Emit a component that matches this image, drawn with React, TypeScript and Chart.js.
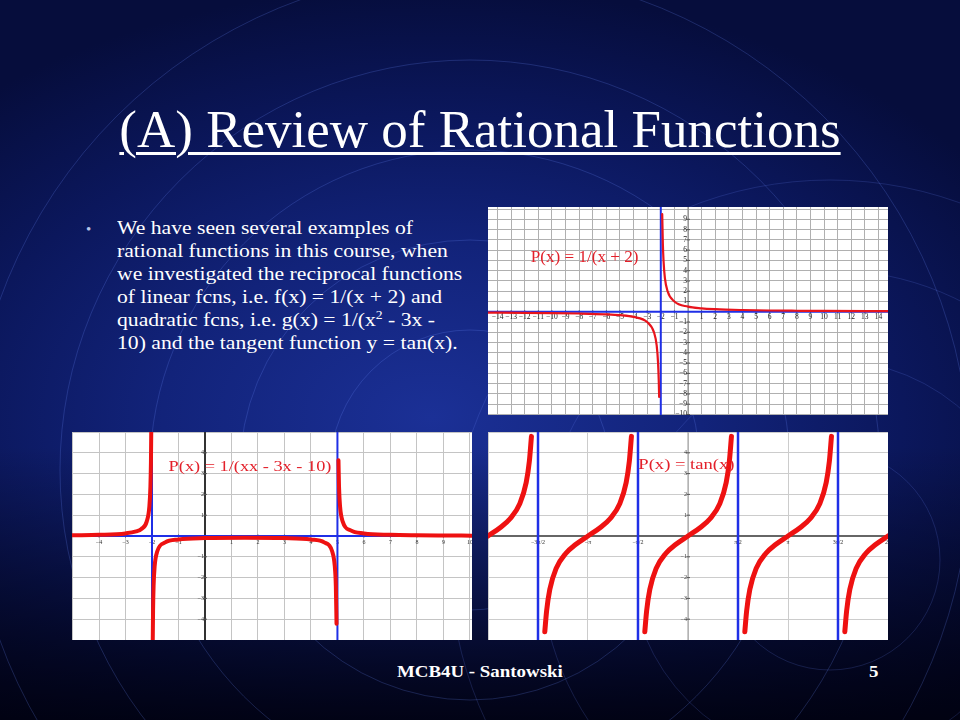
import React, { useEffect, useRef } from "react";
import { Chart, registerables } from "chart.js";

Chart.register(...registerables);

// ---------- Graph A: P(x) = 1/(x + 2) ----------
const recipLeftX = [-14.7, -12, -10, -8, -6, -5, -4, -3, -2.5, -2.3, -2.2, -2.15, -2.12];
const recipLeftY = [-0.08, -0.1, -0.125, -0.17, -0.25, -0.33, -0.5, -1, -2, -3.3, -5, -6.7, -8.3];
const recipRightX = [-1.895, -1.85, -1.8, -1.7, -1.5, -1, 0, 1, 2, 4, 6, 8, 10, 14.7];
const recipRightY = [9.5, 6.7, 5, 3.3, 2, 1, 0.5, 0.33, 0.25, 0.17, 0.125, 0.1, 0.08, 0.06];
const recipVertAsym = [-2];
const recipHorizAsym = [0];
const recipGridX = [-14, -13, -12, -11, -10, -9, -8, -7, -6, -5, -4, -3, -2, -1, 0, 1, 2, 3, 4, 5, 6, 7, 8, 9, 10, 11, 12, 13, 14];
const recipGridY = [-10, -9, -8, -7, -6, -5, -4, -3, -2, -1, 0, 1, 2, 3, 4, 5, 6, 7, 8, 9, 10];
const recipXTickValues = [-14, -13, -12, -11, -10, -9, -8, -7, -6, -5, -4, -3, -2, -1, 1, 2, 3, 4, 5, 6, 7, 8, 9, 10, 11, 12, 13, 14];
const recipXTickLabels = ["−14", "−13", "−12", "−11", "−10", "−9", "−8", "−7", "−6", "−5", "−4", "−3", "−2", "−1", "1", "2", "3", "4", "5", "6", "7", "8", "9", "10", "11", "12", "13", "14"];
const recipYTickValues = [9, 8, 7, 6, 5, 4, 3, 2, 1, -1, -2, -3, -4, -5, -6, -7, -8, -9, -10];
const recipYTickLabels = ["9", "8", "7", "6", "5", "4", "3", "2", "1", "−1", "−2", "−3", "−4", "−5", "−6", "−7", "−8", "−9", "−10"];

// ---------- Graph B: P(x) = 1/(x² - 3x - 10) ----------
const quadLeftX = [-5, -4, -3, -2.6, -2.4, -2.2, -2.1, -2.06, -2.04, -2.028];
const quadLeftY = [0.033, 0.056, 0.125, 0.22, 0.34, 0.69, 1.41, 2.36, 3.55, 5.08];
const quadMidX = [-1.972, -1.96, -1.94, -1.9, -1.8, -1.5, -1, 0, 1.5, 3, 4, 4.5, 4.8, 4.9, 4.94, 4.966];
const quadMidY = [-5.12, -3.59, -2.4, -1.45, -0.735, -0.308, -0.167, -0.1, -0.082, -0.1, -0.167, -0.308, -0.735, -1.45, -2.4, -4.22];
const quadRightX = [5.039, 5.06, 5.1, 5.2, 5.5, 6, 7, 8, 9, 10.1];
const quadRightY = [3.64, 2.36, 1.41, 0.69, 0.27, 0.125, 0.056, 0.033, 0.023, 0.016];
const quadVertAsym = [-2, 5];
const quadHorizAsym = [0];
const quadGridX = [-5, -4, -3, -2, -1, 0, 1, 2, 3, 4, 5, 6, 7, 8, 9, 10];
const quadGridY = [-5, -4, -3, -2, -1, 0, 1, 2, 3, 4, 5];
const quadXTickValues = [-4, -3, -2, -1, 1, 2, 3, 4, 5, 6, 7, 8, 9, 10];
const quadXTickLabels = ["−4", "−3", "−2", "−1", "1", "2", "3", "4", "5", "6", "7", "8", "9", "10"];
const quadYTickValues = [4, 3, 2, 1, -1, -2, -3, -4];
const quadYTickLabels = ["4", "3", "2", "1", "−1", "−2", "−3", "−4"];

// ---------- Graph C: P(x) = tan(x) ----------
const tanBranch1X = [-6.283, -5.883, -5.583, -5.283, -5.083, -4.983, -4.918];
const tanBranch1Y = [0, 0.423, 0.842, 1.557, 2.572, 3.602, 4.79];
const tanBranch2X = [-4.499, -4.442, -4.342, -4.142, -3.842, -3.542, -3.142, -2.742, -2.442, -2.142, -1.942, -1.842, -1.777];
const tanBranch2Y = [-4.6, -3.602, -2.572, -1.557, -0.842, -0.423, 0, 0.423, 0.842, 1.557, 2.572, 3.602, 4.79];
const tanBranch3X = [-1.357, -1.3, -1.2, -1.0, -0.7, -0.4, 0, 0.4, 0.7, 1.0, 1.2, 1.3, 1.365];
const tanBranch3Y = [-4.6, -3.602, -2.572, -1.557, -0.842, -0.423, 0, 0.423, 0.842, 1.557, 2.572, 3.602, 4.79];
const tanBranch4X = [1.785, 1.842, 1.942, 2.142, 2.442, 2.742, 3.142, 3.542, 3.842, 4.142, 4.342, 4.442, 4.507];
const tanBranch4Y = [-4.6, -3.602, -2.572, -1.557, -0.842, -0.423, 0, 0.423, 0.842, 1.557, 2.572, 3.602, 4.79];
const tanBranch5X = [4.926, 4.983, 5.083, 5.283, 5.583, 5.883, 6.283];
const tanBranch5Y = [-4.6, -3.602, -2.572, -1.557, -0.842, -0.423, 0];
const tanVertAsym = [-4.712, -1.571, 1.571, 4.712];
const tanGridX = [-6.283, -4.712, -3.142, -1.571, 0, 1.571, 3.142, 4.712, 6.283];
const tanGridY = [-5, -4, -3, -2, -1, 0, 1, 2, 3, 4, 5];
const tanXTickValues = [-4.712, -3.142, -1.571, 1.571, 3.142, 4.712, 6.283];
const tanXTickLabels = ["−3π/2", "−π", "−π/2", "π/2", "π", "3π/2", "2π"];
const tanYTickValues = [4, 3, 2, 1, -1, -2, -3, -4];
const tanYTickLabels = ["4", "3", "2", "1", "−1", "−2", "−3", "−4"];

interface Curve { xs: number[]; ys: number[] }
interface AxisStyle { color: string; width: number }
interface Spec {
  xMin: number; xMax: number; yMin: number; yMax: number;
  gridX: number[]; gridY: number[]; gridColor: string;
  xTickValues: number[]; xTickLabels: string[];
  yTickValues: number[]; yTickLabels: string[];
  labelFont: string; labelColor: string; labelGap: number;
  curves: Curve[]; curveWidth: number; curveColor: string;
  vAsym: number[]; hAsym: number[]; asymWidth: number; asymColor: string;
  xAxis: AxisStyle | null; yAxis: AxisStyle | null;
  title: { text: string; x: number; y: number; size: number; sx: number };
}

const SERIF = '"Liberation Serif", "Times New Roman", serif';

const specA: Spec = {
  xMin: -14.7, xMax: 14.7, yMin: -10.05, yMax: 10.2,
  gridX: recipGridX, gridY: recipGridY, gridColor: "#b0b0b0",
  xTickValues: recipXTickValues, xTickLabels: recipXTickLabels,
  yTickValues: recipYTickValues, yTickLabels: recipYTickLabels,
  labelFont: `7.5px ${SERIF}`, labelColor: "#222", labelGap: 2,
  curves: [{ xs: recipLeftX, ys: recipLeftY }, { xs: recipRightX, ys: recipRightY }],
  curveWidth: 2.2, curveColor: "#e8141c",
  vAsym: recipVertAsym, hAsym: recipHorizAsym, asymWidth: 2, asymColor: "#1f2fe6",
  xAxis: null, yAxis: { color: "#808080", width: 1 },
  title: { text: "P(x) = 1/(x + 2)", x: -7.6, y: 5.3, size: 16, sx: 1.07 },
};

const specB: Spec = {
  xMin: -5.02, xMax: 10.08, yMin: -5, yMax: 5,
  gridX: quadGridX, gridY: quadGridY, gridColor: "#c4c4c4",
  xTickValues: quadXTickValues, xTickLabels: quadXTickLabels,
  yTickValues: quadYTickValues, yTickLabels: quadYTickLabels,
  labelFont: `6px ${SERIF}`, labelColor: "#333", labelGap: 3,
  curves: [{ xs: quadLeftX, ys: quadLeftY }, { xs: quadMidX, ys: quadMidY }, { xs: quadRightX, ys: quadRightY }],
  curveWidth: 4, curveColor: "#ee1111",
  vAsym: quadVertAsym, hAsym: quadHorizAsym, asymWidth: 2, asymColor: "#1f2fe6",
  xAxis: null, yAxis: { color: "#333", width: 2 },
  title: { text: "P(x) = 1/(xx - 3x - 10)", x: 1.7, y: 3.3, size: 15, sx: 1.22 },
};

const specC: Spec = {
  xMin: -6.283, xMax: 6.283, yMin: -5, yMax: 5,
  gridX: tanGridX, gridY: tanGridY, gridColor: "#cccccc",
  xTickValues: tanXTickValues, xTickLabels: tanXTickLabels,
  yTickValues: tanYTickValues, yTickLabels: tanYTickLabels,
  labelFont: `6px ${SERIF}`, labelColor: "#333", labelGap: 3,
  curves: [
    { xs: tanBranch1X, ys: tanBranch1Y }, { xs: tanBranch2X, ys: tanBranch2Y },
    { xs: tanBranch3X, ys: tanBranch3Y }, { xs: tanBranch4X, ys: tanBranch4Y },
    { xs: tanBranch5X, ys: tanBranch5Y },
  ],
  curveWidth: 5, curveColor: "#ee1111",
  vAsym: tanVertAsym, hAsym: [], asymWidth: 2.5, asymColor: "#1f2fe6",
  xAxis: { color: "#666", width: 2 }, yAxis: { color: "#999", width: 1 },
  title: { text: "P(x) = tan(x)", x: -0.05, y: 3.4, size: 15, sx: 1.24 },
};

function buildConfig(spec: Spec): any {
  const datasets: any[] = [];
  spec.curves.forEach((c) => {
    datasets.push({
      data: c.xs.map((x, i) => ({ x, y: c.ys[i] })),
      borderColor: spec.curveColor,
      borderWidth: spec.curveWidth,
      borderCapStyle: "round",
      borderJoinStyle: "round",
      pointRadius: 0,
      fill: false,
      cubicInterpolationMode: "monotone",
    });
  });
  spec.vAsym.forEach((v) => {
    datasets.push({
      data: [{ x: v, y: spec.yMin - 1 }, { x: v, y: spec.yMax + 1 }],
      borderColor: spec.asymColor, borderWidth: spec.asymWidth,
      pointRadius: 0, fill: false, tension: 0,
    });
  });
  spec.hAsym.forEach((h) => {
    datasets.push({
      data: [{ x: spec.xMin - 1, y: h }, { x: spec.xMax + 1, y: h }],
      borderColor: spec.asymColor, borderWidth: spec.asymWidth,
      pointRadius: 0, fill: false, tension: 0,
    });
  });

  const decor = {
    id: "decor",
    beforeDatasetsDraw(chart: any) {
      const { ctx, chartArea } = chart;
      const xs = chart.scales.x, ys = chart.scales.y;
      const x0 = xs.getPixelForValue(0);
      const y0 = ys.getPixelForValue(0);
      ctx.save();
      if (spec.yAxis) {
        ctx.strokeStyle = spec.yAxis.color; ctx.lineWidth = spec.yAxis.width;
        ctx.beginPath(); ctx.moveTo(x0, chartArea.top); ctx.lineTo(x0, chartArea.bottom); ctx.stroke();
      }
      if (spec.xAxis) {
        ctx.strokeStyle = spec.xAxis.color; ctx.lineWidth = spec.xAxis.width;
        ctx.beginPath(); ctx.moveTo(chartArea.left, y0); ctx.lineTo(chartArea.right, y0); ctx.stroke();
      }
      ctx.font = spec.labelFont;
      ctx.fillStyle = spec.labelColor;
      ctx.strokeStyle = "#555"; ctx.lineWidth = 1;
      ctx.textAlign = "center"; ctx.textBaseline = "top";
      spec.xTickValues.forEach((v, i) => {
        const px = xs.getPixelForValue(v);
        ctx.beginPath(); ctx.moveTo(px, y0 - 1.5); ctx.lineTo(px, y0 + 1.5); ctx.stroke();
        ctx.fillText(spec.xTickLabels[i], px, y0 + spec.labelGap);
      });
      ctx.textAlign = "right"; ctx.textBaseline = "middle";
      spec.yTickValues.forEach((v, i) => {
        const py = ys.getPixelForValue(v);
        ctx.beginPath(); ctx.moveTo(x0 - 1.5, py); ctx.lineTo(x0 + 2, py); ctx.stroke();
        ctx.fillText(spec.yTickLabels[i], x0 - 1, py);
      });
      ctx.restore();
    },
    afterDatasetsDraw(chart: any) {
      const { ctx } = chart;
      const t = spec.title;
      const px = chart.scales.x.getPixelForValue(t.x);
      const py = chart.scales.y.getPixelForValue(t.y);
      ctx.save();
      ctx.translate(px, py);
      ctx.scale(t.sx, 1);
      ctx.font = `${t.size}px ${SERIF}`;
      ctx.fillStyle = "#e3202a";
      ctx.textAlign = "center"; ctx.textBaseline = "middle";
      ctx.fillText(t.text, 0, 0);
      ctx.restore();
    },
  };

  const scaleBase = (min: number, max: number, values: number[]) => ({
    type: "linear",
    min, max,
    afterBuildTicks: (s: any) => { s.ticks = values.map((v) => ({ value: v })); },
    grid: { color: spec.gridColor, lineWidth: 1, drawTicks: false },
    border: { display: false },
    ticks: { display: false },
  });

  return {
    type: "line",
    data: { datasets },
    options: {
      animation: false,
      responsive: false,
      maintainAspectRatio: false,
      layout: { padding: 0 },
      plugins: { legend: { display: false }, tooltip: { enabled: false }, title: { display: false } },
      scales: {
        x: scaleBase(spec.xMin, spec.xMax, spec.gridX),
        y: scaleBase(spec.yMin, spec.yMax, spec.gridY),
      },
    },
    plugins: [decor],
  };
}

function Graph({ spec, left, top }: { spec: Spec; left: number; top: number }) {
  const ref = useRef<HTMLCanvasElement>(null);
  useEffect(() => {
    const chart = new Chart(ref.current as HTMLCanvasElement, buildConfig(spec));
    return () => chart.destroy();
  }, [spec]);
  return (
    <canvas
      ref={ref}
      width={400}
      height={208}
      style={{ position: "absolute", left, top, width: 400, height: 208, background: "#ffffff" }}
    />
  );
}

const bulletLines = [
  "We have seen several examples of",
  "rational functions in this course, when",
  "we investigated the reciprocal functions",
  "of linear fcns, i.e. f(x) = 1/(x + 2) and",
];

export default function App() {
  return (
    <div
      style={{
        position: "absolute", left: 0, top: 0, width: 960, height: 720, overflow: "hidden",
        fontFamily: SERIF, color: "#ffffff",
        background:
          "linear-gradient(to bottom, rgba(0,0,0,0) 0%, rgba(0,0,0,0) 62%, rgba(0,0,12,0.88) 100%), radial-gradient(ellipse 70% 60% at 45% 58%, #1b3096 0%, #12237a 40%, #0b175c 70%, #060d3c 100%)",
      }}
    >
      <svg width={960} height={720} style={{ position: "absolute", left: 0, top: 0 }}>
        {[140, 230, 320, 410, 500].map((r) => (
          <circle key={"a" + r} cx={470} cy={470} r={r} fill="none" stroke="rgba(110,140,255,0.22)" strokeWidth={1} />
        ))}
        {[110, 200, 290, 380].map((r) => (
          <circle key={"b" + r} cx={830} cy={560} r={r} fill="none" stroke="rgba(110,140,255,0.18)" strokeWidth={1} />
        ))}
      </svg>

      <div
        style={{
          position: "absolute", left: 0, top: 103, width: 960, textAlign: "center",
          fontSize: 53, lineHeight: "53px", whiteSpace: "nowrap",
        }}
      >
        <span style={{ textDecoration: "underline", textDecorationThickness: 3, textUnderlineOffset: 5 }}>
          (A) Review of Rational Functions
        </span>
      </div>

      <div style={{ position: "absolute", left: 86, top: 218, fontSize: 15, lineHeight: "23px", color: "#b8c4e8" }}>•</div>
      <div
        style={{
          position: "absolute", left: 117, top: 216, fontSize: 19, lineHeight: "23px",
          whiteSpace: "nowrap", transform: "scaleX(1.14)", transformOrigin: "left top",
        }}
      >
        {bulletLines.map((l) => (
          <div key={l}>{l}</div>
        ))}
        <div>
          quadratic fcns, i.e. g(x) = 1/(x<sup style={{ fontSize: 12, lineHeight: 0 }}>2</sup> - 3x -
        </div>
        <div>10) and the tangent function y = tan(x).</div>
      </div>

      <Graph spec={specA} left={488} top={207} />
      <Graph spec={specB} left={72} top={432} />
      <Graph spec={specC} left={488} top={432} />

      <div
        style={{
          position: "absolute", left: 397, top: 662, fontSize: 16, lineHeight: "20px", fontWeight: "bold",
          whiteSpace: "nowrap", transform: "scaleX(1.18)", transformOrigin: "left top",
        }}
      >
        MCB4U - Santowski
      </div>
      <div
        style={{
          position: "absolute", left: 869, top: 662, fontSize: 16, lineHeight: "20px", fontWeight: "bold",
          transform: "scaleX(1.18)", transformOrigin: "left top",
        }}
      >
        5
      </div>
    </div>
  );
}
